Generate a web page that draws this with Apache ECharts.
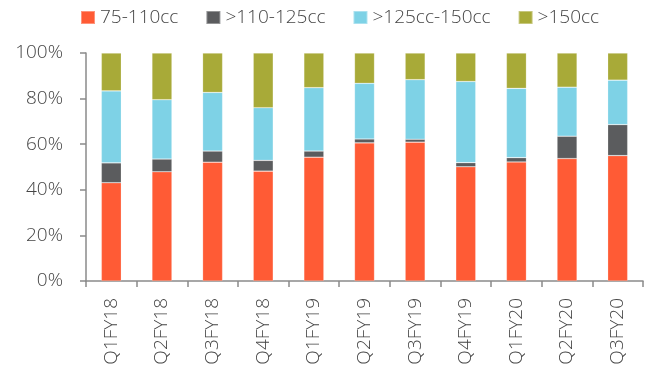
<!DOCTYPE html>
<html>
<head>
<meta charset="utf-8">
<script src="https://cdn.jsdelivr.net/npm/echarts@6/dist/echarts.min.js"></script>
<style>
  html, body { margin: 0; padding: 0; background: #fff; }
  #chart { width: 651px; height: 376px; }
</style>
</head>
<body>
<div id="chart"></div>
<script>
// Quarterly engine-size mix (% share of volumes)
const quarters = ['Q1FY18', 'Q2FY18', 'Q3FY18', 'Q4FY18', 'Q1FY19', 'Q2FY19', 'Q3FY19', 'Q4FY19', 'Q1FY20', 'Q2FY20', 'Q3FY20'];
const seriesNames = ['75-110cc', '>110-125cc', '>125cc-150cc', '>150cc'];
const cc75to110 = [43.1, 47.9, 52.1, 48.2, 54.3, 60.6, 60.9, 50.1, 52.2, 53.7, 55.0];
const cc110to125 = [8.7, 5.6, 4.9, 4.7, 2.7, 1.7, 1.3, 1.8, 1.9, 9.8, 13.6];
const cc125to150 = [31.6, 26.0, 25.7, 23.1, 27.8, 24.4, 26.1, 35.6, 30.4, 21.5, 19.5];
const ccAbove150 = [16.6, 20.5, 17.3, 24.0, 15.2, 13.3, 11.7, 12.5, 15.5, 15.0, 11.9];
const yTicks = [0, 20, 40, 60, 80, 100];

const colors = ['#FF5B35', '#5B5C5E', '#7ED2E6', '#A8AA38'];
const seriesData = [cc75to110, cc110to125, cc125to150, ccAbove150];
const fontFamily = '"Open Sans", Lato, sans-serif';
const textColor = '#454545';

const chart = echarts.init(document.getElementById('chart'), null, { renderer: 'canvas' });
chart.setOption({
  animation: false,
  color: colors,
  legend: {
    top: 8,
    left: 80,
    padding: 0,
    itemWidth: 14,
    itemHeight: 13,
    itemGap: 27,
    icon: 'rect',
    textStyle: { color: textColor, fontSize: 19, fontWeight: 300, fontFamily: fontFamily },
    data: seriesNames
  },
  grid: { left: 86, right: 8, top: 53, bottom: 95, containLabel: false },
  xAxis: {
    type: 'category',
    data: quarters,
    axisLine: { lineStyle: { color: '#8a8a8a', width: 1.5 } },
    axisTick: { show: true, length: 6, lineStyle: { color: '#8a8a8a', width: 1.5 } },
    axisLabel: { rotate: 90, margin: 17, color: textColor, fontSize: 19, fontWeight: 300, fontFamily: fontFamily }
  },
  yAxis: {
    type: 'value',
    min: 0,
    max: 100,
    interval: 20,
    axisLine: { show: true, lineStyle: { color: '#8a8a8a', width: 1.5 } },
    axisTick: { show: true, length: 6, lineStyle: { color: '#8a8a8a', width: 1.5 } },
    splitLine: { show: false },
    axisLabel: {
      margin: 23,
      color: textColor,
      fontSize: 19,
      fontWeight: 300,
      fontFamily: fontFamily,
      formatter: v => yTicks.includes(v) ? v + '%' : ''
    }
  },
  series: seriesNames.map((name, i) => ({
    name: name,
    type: 'bar',
    stack: 'mix',
    barWidth: 20,
    data: seriesData[i],
    itemStyle: { color: colors[i], borderColor: 'rgba(255,255,255,0.35)', borderWidth: 0.6 }
  }))
});
</script>
</body>
</html>
